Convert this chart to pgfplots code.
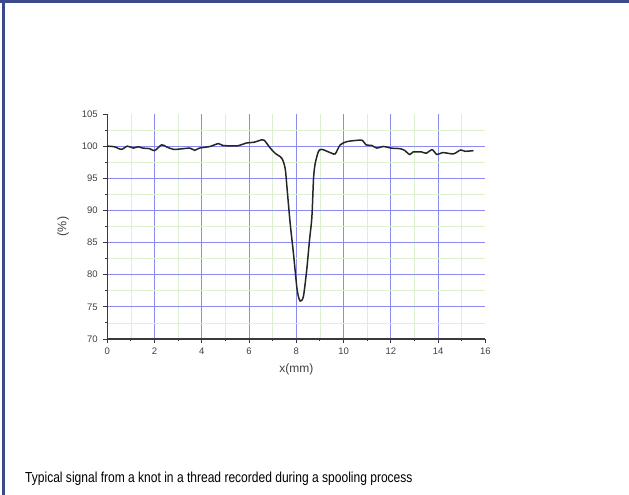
\documentclass[border=0pt]{standalone}
\usepackage{pgfplots}
\pgfplotsset{compat=1.18}
\usepackage{fontspec}
\setmainfont{Liberation Sans}
\definecolor{framebl}{HTML}{3C4A8C}
\definecolor{majgrid}{HTML}{8A8AF0}
\definecolor{mingrid}{HTML}{DDF0D0}
\definecolor{axgray}{HTML}{3A3A3A}
\definecolor{lblgray}{HTML}{404040}
\begin{document}
\begin{tikzpicture}[x=1pt,y=1pt]
\path[use as bounding box] (0,0) rectangle (629,-495);
\fill[framebl] (0,0) rectangle (629,-2.7);
\fill[framebl] (2.3,0) rectangle (5,-495);
\begin{axis}[
  scale only axis,
  width=378pt, height=225pt,
  at={(107.3pt,-339pt)}, anchor=south west,
  xmin=0, xmax=16, ymin=70, ymax=105,
  axis x line*=bottom, axis y line*=left,
  axis line style={draw=axgray, line width=1.1pt},
  xtick={2,4,...,14}, ytick={75,80,...,100},
  extra x ticks={0,16}, extra y ticks={70,105},
  extra tick style={grid=none},
  minor xtick={1,3,...,15}, minor ytick={72.5,77.5,...,102.5},
  grid=both,
  major grid style={draw=majgrid, line width=0.85pt},
  minor grid style={draw=mingrid, line width=0.6pt},
  tick align=outside,
  major tick length=4pt, minor tick length=2pt,
  major tick style={draw=axgray, line width=0.9pt},
  minor tick style={draw=axgray, line width=0.9pt},
  tick label style={font=\fontsize{9.5}{11}\selectfont, text=lblgray},
  /pgf/number format/assume math mode=true,
  xticklabel style={font=\fontsize{9.5}{11}\selectfont, yshift=-1pt},
  yticklabel style={font=\fontsize{9.5}{11}\selectfont, xshift=-2pt},
  xlabel={x(mm)}, ylabel={(\%)},
  xlabel style={font=\fontsize{12}{14}\selectfont, text=lblgray, yshift=5pt},
  ylabel style={font=\fontsize{12.5}{14}\selectfont, text=lblgray, yshift=-2pt},
]
\addplot[smooth, tension=0.45, line width=1.5pt, color=black!85] coordinates {
(0,100.0) (0.3,99.9) (0.6,99.5) (0.85,100.0) (1.1,99.7) (1.3,99.9) (1.5,99.7)
(1.8,99.6) (2.0,99.3) (2.3,100.2) (2.5,99.9) (2.8,99.5) (3.2,99.6) (3.5,99.7)
(3.7,99.35) (3.9,99.7) (4.35,99.95) (4.7,100.4) (4.9,100.1) (5.5,100.05)
(5.9,100.5) (6.2,100.6) (6.55,101.0) (6.65,100.9) (6.9,99.7) (7.1,98.9)
(7.39,98.1) (7.53,96.5) (7.6,93.8) (7.74,88.0) (7.88,83.3) (8.02,78.1)
(8.09,76.6) (8.17,75.9) (8.3,76.6) (8.44,80.7) (8.56,85.4) (8.66,89.0)
(8.73,95.0) (8.8,97.3) (8.94,99.2) (9.08,99.5) (9.3,99.2) (9.5,98.9)
(9.65,98.8) (9.86,100.2) (10.14,100.7) (10.55,100.9) (10.8,100.9)
(10.95,100.2) (11.2,100.1) (11.4,99.7) (11.7,99.95) (12.0,99.7) (12.4,99.6)
(12.6,99.3) (12.8,98.7) (12.95,99.1) (13.3,99.1) (13.5,98.9) (13.75,99.45)
(13.95,98.7) (14.2,99.0) (14.65,98.8) (14.95,99.4) (15.15,99.2) (15.5,99.3)
};
\end{axis}
\node[anchor=base west, inner sep=0pt] at (25,-482) {\scalebox{0.83}[1]{\fontsize{14.5}{17}\selectfont Typical signal from a knot in a thread recorded during a spooling process}};
\end{tikzpicture}
\end{document}
